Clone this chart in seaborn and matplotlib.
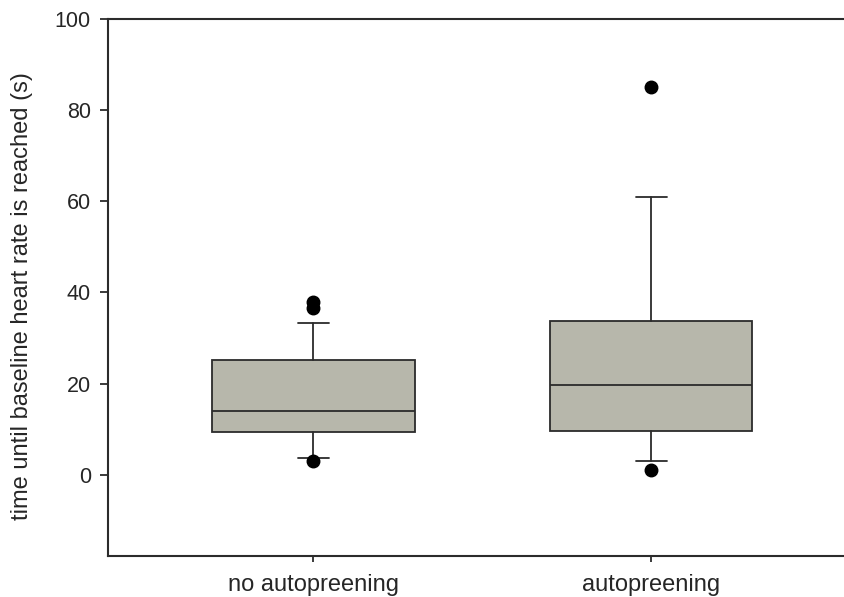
import seaborn as sns
import matplotlib
matplotlib.use("Agg")
import matplotlib.pyplot as plt

# values (SigmaPlot style box plot, whiskers + outliers)
groups = ["no autopreening", "autopreening"]
q1 = [9.3, 9.5]
median = [13.9, 19.7]
q3 = [25.2, 33.8]
whisker_low = [3.7, 3.0]
whisker_high = [33.2, 61.0]
outliers = [[3.1, 36.6, 37.9], [1.1, 85.1]]

y_ticks = [0, 20, 40, 60, 80, 100]

sns.set_theme(style="ticks")
plt.rcParams['font.family'] = ['Liberation Sans', 'DejaVu Sans']

fig = plt.figure(figsize=(8.45, 5.97), dpi=100)
ax = fig.add_axes([0.128, 0.069, 0.872, 0.899])

stats = []
for i, g in enumerate(groups):
    stats.append({
        "label": g,
        "q1": q1[i],
        "med": median[i],
        "q3": q3[i],
        "whislo": whisker_low[i],
        "whishi": whisker_high[i],
        "fliers": outliers[i],
    })

ax.bxp(
    stats,
    positions=range(len(groups)),
    widths=0.6,
    capwidths=0.092,
    patch_artist=True,
    boxprops=dict(facecolor="#b7b7ab", edgecolor="#2b2b2b", linewidth=1.3),
    medianprops=dict(color="#2b2b2b", linewidth=1.3),
    whiskerprops=dict(color="#2b2b2b", linewidth=1.3),
    capprops=dict(color="#2b2b2b", linewidth=1.3),
    flierprops=dict(marker="o", markerfacecolor="black", markeredgecolor="black",
                    markersize=9, linestyle="none"),
)

ax.set_xlim(-0.607, 1.574)
ax.set_ylim(-17.8, 100)
ax.set_yticks(y_ticks)
ax.set_xticks(range(len(groups)))
ax.set_xticklabels(groups, fontsize=17)
ax.tick_params(axis="y", labelsize=15.5, length=5.5, width=1.3, color="#2b2b2b", pad=7)
ax.tick_params(axis="x", length=4, width=1.3, color="#2b2b2b", pad=9)
ax.set_ylabel("time until baseline heart rate is reached (s)", fontsize=17)
ax.yaxis.set_label_coords(-0.102, 0.484)

for side in ["left", "bottom", "top"]:
    ax.spines[side].set_linewidth(1.5)
    ax.spines[side].set_color("#2b2b2b")
ax.spines["right"].set_visible(False)

fig.savefig("out.png", dpi=100)
